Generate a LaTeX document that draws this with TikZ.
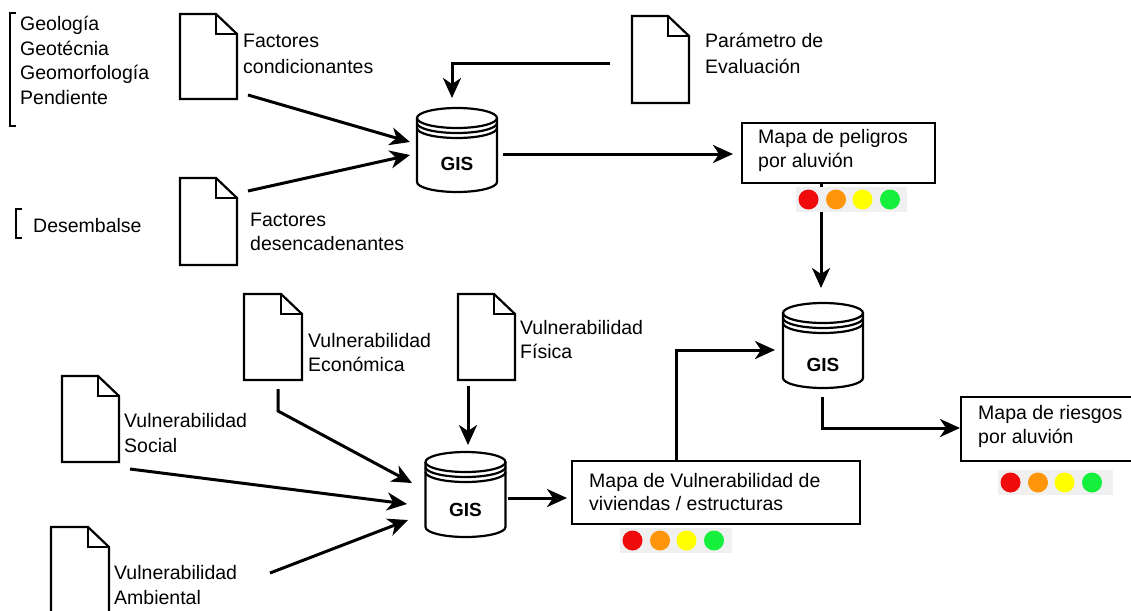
\documentclass[tikz,border=0pt]{standalone}
\usepackage{fontspec}
\setmainfont{Liberation Sans}
\usetikzlibrary{arrows.meta}
\definecolor{lred}{RGB}{240,12,12}
\definecolor{lorange}{RGB}{255,150,10}
\definecolor{lyellow}{RGB}{255,255,0}
\definecolor{lgreen}{RGB}{20,240,60}
\definecolor{stripgray}{RGB}{240,240,240}
\tikzset{
  lbl/.style={font=\fontsize{19.5}{24.5}\selectfont, inner sep=0pt, align=left, anchor=base west},
  docbox/.style={inner sep=0pt, outer sep=0pt, minimum width=57pt, minimum height=86pt},
  docline/.style={line width=2.2pt, line join=miter},
  dbbox/.style={inner sep=0pt, outer sep=0pt, minimum width=80pt, minimum height=85pt},
  dbline/.style={line width=2.2pt},
  gislbl/.style={font=\fontsize{19}{22}\selectfont\bfseries, inner sep=0pt},
  mapbox/.style={draw, line width=2.2pt, inner sep=0pt, outer sep=0pt},
  conn/.style={line width=3pt, -{Stealth[length=20pt, width=18pt, inset=6pt]}},
  brk/.style={line width=1.2pt},
}
\newcommand\docdraw[1]{%
  \draw[docline] (#1.south west) -- (#1.north west) -- ([xshift=-21pt]#1.north east)
     -- ([yshift=-20pt]#1.north east) -- (#1.south east) -- cycle;
  \draw[docline] ([xshift=-21pt]#1.north east) |- ([yshift=-20pt]#1.north east);}
\newcommand\dbdraw[1]{%
  \draw[dbline] ([yshift=-10pt]#1.north) ellipse [x radius=40, y radius=10];
  \draw[dbline] ([yshift=-10pt]#1.north west) -- ([yshift=10pt]#1.south west)
     arc[start angle=180, end angle=360, x radius=40, y radius=10] -- ([yshift=-10pt]#1.north east);
  \draw[dbline] ([yshift=-15pt]#1.north west) arc[start angle=180, end angle=360, x radius=40, y radius=10];
  \draw[dbline] ([yshift=-20pt]#1.north west) arc[start angle=180, end angle=360, x radius=40, y radius=10];}
\newcommand\lights[3]{%
  \fill[stripgray] (#1,-#2) rectangle ++(#3,-25);
  \fill[lred]    (#1+12.5,-#2-12.5) circle[radius=10];
  \fill[lorange] (#1+40,-#2-12.5) circle[radius=10];
  \fill[lyellow] (#1+66.5,-#2-12.5) circle[radius=10];
  \fill[lgreen]  (#1+94,-#2-12.5) circle[radius=10];}
\begin{document}
\begin{tikzpicture}[x=1pt,y=1pt]
\useasboundingbox (0,0) rectangle (1131,-610);
\fill[white] (0,0) rectangle (1131,-610);

% brackets and lists (base anchor = baseline of last line)
\draw[brk] (16,-13) -- (10,-13) -- (10,-126) -- (16,-126);
\draw[brk] (22,-209) -- (16,-209) -- (16,-238) -- (22,-238);
\node[lbl] (list) at (20,-104) {Geología\\Geotécnia\\Geomorfología\\Pendiente};
\node[lbl] (des) at (33,-232) {Desembalse};

% documents
\node[docbox, minimum height=85pt] (dA) at (208.5,-56.5) {};
\node[docbox, minimum height=87pt] (dB) at (208.5,-221.5) {};
\node[docbox, minimum height=87pt] (dP) at (660.5,-59.5) {};
\node[docbox, minimum width=58pt] (dE) at (273,-337) {};
\node[docbox] (dF) at (486.5,-337) {};
\node[docbox] (dS) at (90.5,-419) {};
\node[docbox, minimum width=58pt] (dAm) at (80,-570) {};
\docdraw{dA}\docdraw{dB}\docdraw{dP}\docdraw{dE}\docdraw{dF}\docdraw{dS}\docdraw{dAm}

\node[lbl, font=\fontsize{19.5}{25}\selectfont] (tA) at (243,-73) {Factores\\condicionantes};
\node[lbl, font=\fontsize{19.5}{24}\selectfont] (tB) at (250,-250) {Factores\\desencadenantes};
\node[lbl, font=\fontsize{19.5}{25}\selectfont] (tP) at (705,-73) {Parámetro de\\Evaluación};
\node[lbl, font=\fontsize{19.5}{24}\selectfont] (tE) at (308,-371) {Vulnerabilidad\\Económica};
\node[lbl, font=\fontsize{19.5}{24}\selectfont] (tF) at (520,-358) {Vulnerabilidad\\Física};
\node[lbl, font=\fontsize{19.5}{25}\selectfont] (tS) at (124,-452) {Vulnerabilidad\\Social};
\node[lbl, font=\fontsize{19.5}{25}\selectfont] (tAm) at (114,-604) {Vulnerabilidad\\Ambiental};

% GIS databases
\node[dbbox, minimum height=84pt] (g1) at (457,-150) {};
\node[dbbox] (g2) at (465.5,-494.5) {};
\node[dbbox] (g3) at (823,-345.5) {};
\dbdraw{g1}\dbdraw{g2}\dbdraw{g3}
\node[gislbl] (g1t) at ([yshift=-55.5pt]g1.north) {GIS};
\node[gislbl] (g2t) at ([yshift=-58pt]g2.north) {GIS};
\node[gislbl] (g3t) at ([yshift=-62pt]g3.north) {GIS};

% map boxes
\node[mapbox, minimum width=193pt, minimum height=60pt] (mp) at (838.5,-153) {};
\node[mapbox, minimum width=172pt, minimum height=64pt] (mr) at (1047,-429) {};
\node[mapbox, minimum width=288pt, minimum height=63pt] (mv) at (716,-492.5) {};
\node[lbl, font=\fontsize{19.5}{24}\selectfont] (mpt) at (758,-167) {Mapa de peligros\\por aluvión};
\node[lbl, font=\fontsize{19.5}{24}\selectfont] (mrt) at (978,-443) {Mapa de riesgos\\por aluvión};
\node[lbl, font=\fontsize{19.5}{23.5}\selectfont] (mvt) at (589,-510.5) {Mapa de Vulnerabilidad de\\viviendas / estructuras};

% connectors
\draw[conn] ([shift={(6,-4)}]g1.east) -- ([shift={(-9,-1)}]mp.west);
\draw[conn] ([shift={(-22,-3.5)}]dP.west) -| ([shift={(-5,10)}]g1.north);
\draw[conn] ([shift={(11,4)}]dA.south east) -- ([shift={(-7,8)}]g1.west);
\draw[conn] ([shift={(11,-13)}]dB.north east) -- ([shift={(-7,-5)}]g1.west);
\draw[conn] ([shift={(-17.5,0)}]mp.south) -- ([shift={(-2,15)}]g3.north);
\draw[conn] ([shift={(-1,-9)}]g3.south) |- ([shift={(-1,1)}]mr.west);
\draw[conn] ([shift={(-40,0)}]mv.north) |- ([shift={(-8,-4.5)}]g3.west);
\draw[conn] ([shift={(2.5,-3.5)}]g2.east) -- ([shift={(-5,-5.5)}]mv.west);
\draw[conn] ([shift={(-18.5,-6)}]dF.south) -- ([shift={(2.5,7)}]g2.north);
\draw[conn] ([shift={(5,-9)}]dE.south) -- ++(0,-22) -- ([shift={(-13.5,11.5)}]g2.west);
\draw[conn] ([shift={(11,-7)}]dS.south east) -- ([shift={(-18.5,-9.5)}]g2.west);
\draw[conn] ([shift={(161,-3)}]dAm.east) -- ([shift={(-17.5,-25.5)}]g2.west);

% colour scales
\lights{796}{187}{111}
\lights{620}{528}{112}
\lights{998}{470}{115}
\end{tikzpicture}
\end{document}
